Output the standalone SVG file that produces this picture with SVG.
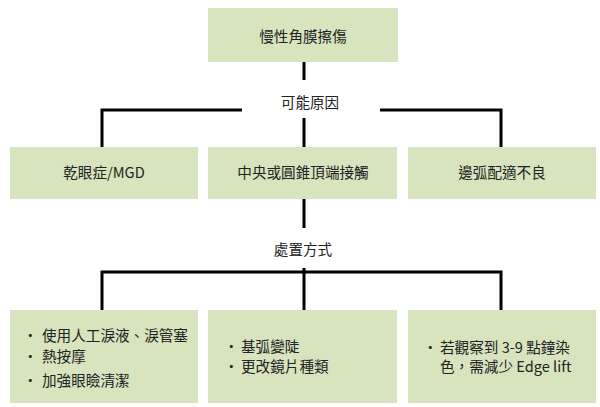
<svg xmlns="http://www.w3.org/2000/svg" width="600" height="407" viewBox="0 0 600 407">
<style>
.box{fill:#d7e4bd;}
.t{font-family:"Noto Sans CJK TC","Noto Sans",sans-serif;font-size:14.6px;fill:#222;}
.c{text-anchor:middle;}
.ln{stroke:#000;stroke-width:3;fill:none;}
</style>
<rect width="600" height="407" fill="#fff"/>
<g id="connectors">
<path class="ln" d="M304,62 V80"/>
<path class="ln" d="M242,110 H102 V147"/>
<path class="ln" d="M380,110 H501 V147"/>
<path class="ln" d="M304,118 V147"/>
<path class="ln" d="M304,199 V228"/>
<path class="ln" d="M102,310 V272 H501 V310"/>
<path class="ln" d="M304,268 V310"/>
</g>
<g id="label-cause"><text class="t c" x="310" y="108">可能原因</text></g>
<g id="label-treat"><text class="t c" x="303" y="255">處置方式</text></g>
<g id="node-root">
<rect class="box" x="208" y="8" width="190" height="54"/>
<text class="t c" x="303" y="42">慢性角膜擦傷</text>
</g>
<g id="node-dry">
<rect class="box" x="10" y="147" width="188" height="52"/>
<text class="t c" x="104" y="178">乾眼症/MGD</text>
</g>
<g id="node-central">
<rect class="box" x="208" y="147" width="189" height="52"/>
<text class="t c" x="303" y="178">中央或圓錐頂端接觸</text>
</g>
<g id="node-edge">
<rect class="box" x="408" y="147" width="188" height="52"/>
<text class="t c" x="502" y="178">邊弧配適不良</text>
</g>
<g id="node-treat1">
<rect class="box" x="10" y="310" width="188" height="93"/>
<text class="t" x="23" y="341">•</text><text class="t" x="42" y="341">使用人工淚液、淚管塞</text>
<text class="t" x="23" y="362">•</text><text class="t" x="42" y="362">熱按摩</text>
<text class="t" x="23" y="386">•</text><text class="t" x="42" y="386">加強眼瞼清潔</text>
</g>
<g id="node-treat2">
<rect class="box" x="208" y="310" width="189" height="93"/>
<text class="t" x="224" y="352">•</text><text class="t" x="241" y="352">基弧變陡</text>
<text class="t" x="224" y="372">•</text><text class="t" x="241" y="372">更改鏡片種類</text>
</g>
<g id="node-treat3">
<rect class="box" x="408" y="310" width="188" height="93"/>
<text class="t" x="423" y="353">•</text><text class="t" x="440" y="353">若觀察到 3-9 點鐘染</text>
<text class="t" x="440" y="372">色，需減少 Edge lift</text>
</g>
</svg>
